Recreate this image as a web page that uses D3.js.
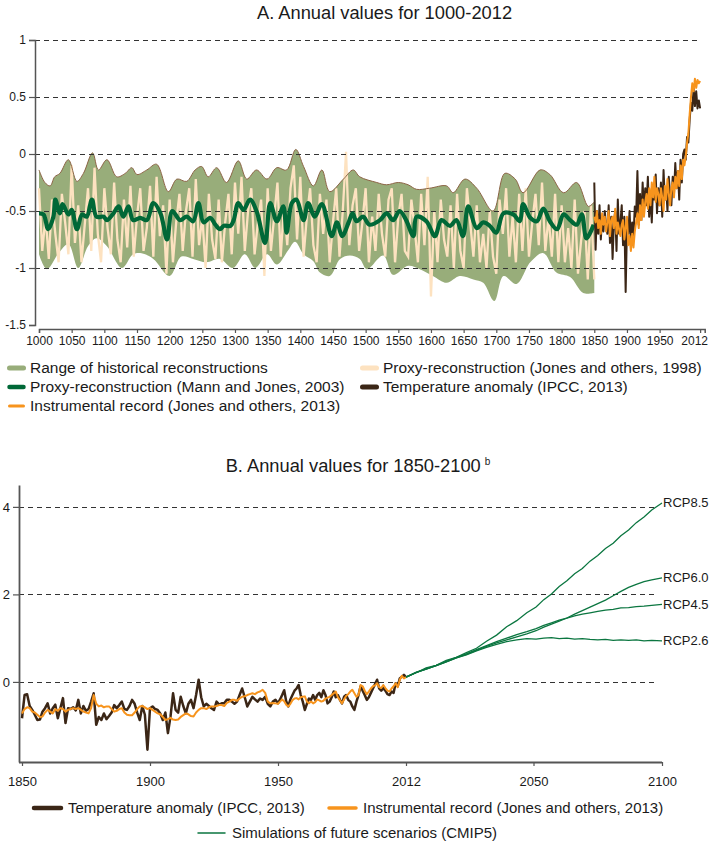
<!DOCTYPE html>
<html><head><meta charset="utf-8">
<script src="https://cdn.jsdelivr.net/npm/d3@7"></script>
<style>
body{margin:0;background:#fff;}
text{font-family:"Liberation Sans",Arial,Helvetica,sans-serif;fill:#1a1a1a;}
</style>
</head><body>
<svg id="chart" width="711" height="847"></svg>
<script>
// ---------------- Panel A data ----------------
const xTicksA = [1000,1050,1100,1150,1200,1250,1300,1350,1400,1450,1500,1550,1600,1650,1700,1750,1800,1850,1900,1950,2012];
const yTicksA = [-1.5,-1,-0.5,0,0.5,1];
const gridA = [-1,-0.5,0,0.5,1];

const rangeUpperYears = [1000,1009,1017,1024,1032,1045,1058,1068,1082,1091,1104,1119,1132,1142,1150,1165,1180,1198,1211,1226,1239,1249,1259,1272,1287,1305,1318,1333,1349,1364,1379,1393,1405,1420,1433,1445,1466,1481,1491,1517,1532,1550,1565,1578,1598,1624,1634,1652,1670,1695,1713,1729,1741,1767,1782,1803,1823,1841,1850];
const rangeUpperValues = [-0.14,-0.25,-0.28,-0.20,-0.17,-0.05,-0.24,-0.17,0.01,-0.14,-0.05,-0.20,-0.17,-0.12,-0.18,-0.14,-0.09,-0.33,-0.22,-0.24,-0.14,-0.11,-0.20,-0.12,-0.25,-0.06,-0.22,-0.14,-0.22,-0.12,-0.14,0.04,-0.11,-0.28,-0.14,-0.33,-0.22,-0.14,-0.20,-0.25,-0.27,-0.25,-0.27,-0.31,-0.30,-0.28,-0.34,-0.22,-0.30,-0.50,-0.17,-0.22,-0.34,-0.14,-0.18,-0.34,-0.25,-0.46,-0.42];
const rangeLowerYears = [1000,1012,1030,1045,1060,1075,1088,1104,1127,1144,1157,1175,1200,1218,1236,1256,1277,1297,1315,1331,1349,1364,1382,1392,1405,1420,1430,1445,1461,1476,1491,1502,1527,1542,1565,1583,1603,1624,1644,1665,1680,1697,1711,1731,1752,1772,1792,1813,1833,1850];
const rangeLowerValues = [-0.88,-1.01,-0.87,-0.79,-1.00,-0.81,-0.74,-0.81,-1.00,-0.88,-0.87,-0.92,-1.07,-0.90,-0.92,-0.95,-0.92,-1.00,-0.88,-1.00,-0.88,-0.97,-0.84,-0.77,-0.88,-0.94,-1.04,-1.07,-0.92,-0.89,-0.92,-1.01,-0.89,-1.06,-0.98,-1.01,-1.07,-1.13,-1.07,-1.10,-1.13,-1.29,-1.07,-1.14,-0.95,-0.87,-1.04,-1.08,-1.22,-1.22];

const jonesYears = d3.range(1000, 1851, 5);
const jonesValues = [
-0.30,-0.85,-0.55,-0.92,-0.40,-0.70,-0.95,-0.35,-0.60,-0.88,
-0.10,-0.78,-0.45,-0.95,-0.62,-0.30,-0.85,-0.12,-0.70,-0.95,
-0.30,-0.65,-0.88,-0.25,-0.75,-0.95,-0.40,-0.82,-0.28,-0.90,
-0.55,-0.30,-0.85,-0.65,-0.28,-0.90,-0.20,-0.72,-0.45,-1.05,
-0.40,-0.95,-0.60,-0.35,-0.85,-0.50,-0.30,-0.90,-0.22,-0.80,
-0.55,-1.00,-0.35,-0.75,-0.92,-0.40,-0.95,-0.60,-0.35,-0.88,
-0.25,-0.70,-0.20,-0.85,-0.50,-0.30,-0.88,-0.60,-0.40,-1.07,
-0.30,-0.85,-0.55,-0.25,-0.90,-0.45,-0.80,-0.30,-0.10,-0.75,
-0.20,-0.90,-0.55,-0.30,-0.80,-0.95,-0.35,-0.70,-0.40,-0.95,
-0.60,-0.30,-0.90,-0.50,0.02,-0.80,-0.45,-0.30,-0.85,-0.60,
-0.30,-0.95,-0.55,-0.85,-0.35,-0.70,-0.90,-0.40,-0.30,-0.95,
-0.55,-0.35,-0.85,-0.90,-0.40,-0.65,-0.95,-0.35,-0.80,-0.20,
-1.25,-0.50,-0.95,-0.40,-0.75,-0.90,-0.45,-1.00,-0.35,-0.85,
-1.00,-0.30,-0.60,-0.90,-0.45,-0.95,-0.70,-1.00,-0.50,-0.90,
-1.05,-0.40,-0.70,-0.30,-0.90,-0.55,-0.95,-0.35,-0.85,-0.30,
-0.90,-0.60,-0.35,-0.80,-0.25,-0.85,-0.55,-0.90,-0.35,-0.95,
-0.45,-0.95,-0.65,-1.00,-0.40,-1.05,-0.75,-0.50,-1.10,-0.45,
-1.10];

const mannYears = [1000,1007,1014,1022,1025,1032,1036,1045,1050,1058,1066,1073,1081,1088,1099,1104,1114,1122,1129,1137,1144,1155,1165,1175,1186,1196,1204,1216,1226,1236,1244,1252,1262,1270,1277,1283,1293,1298,1305,1313,1323,1333,1346,1354,1364,1374,1379,1387,1394,1405,1412,1422,1433,1448,1456,1464,1474,1480,1486,1496,1506,1522,1532,1542,1552,1562,1573,1578,1593,1606,1616,1629,1639,1649,1657,1670,1680,1690,1700,1711,1726,1736,1741,1752,1762,1772,1782,1793,1803,1813,1823,1831,1838,1849];
const mannValues = [-0.52,-0.53,-0.66,-0.55,-0.40,-0.52,-0.44,-0.53,-0.49,-0.66,-0.53,-0.55,-0.40,-0.55,-0.55,-0.58,-0.52,-0.46,-0.55,-0.46,-0.58,-0.56,-0.58,-0.43,-0.52,-0.75,-0.50,-0.58,-0.55,-0.59,-0.43,-0.60,-0.56,-0.62,-0.66,-0.63,-0.63,-0.58,-0.43,-0.49,-0.40,-0.50,-0.78,-0.43,-0.59,-0.46,-0.69,-0.43,-0.40,-0.58,-0.43,-0.55,-0.44,-0.72,-0.60,-0.72,-0.60,-0.52,-0.59,-0.55,-0.62,-0.58,-0.52,-0.58,-0.50,-0.58,-0.72,-0.55,-0.59,-0.72,-0.58,-0.63,-0.58,-0.72,-0.46,-0.65,-0.60,-0.63,-0.69,-0.52,-0.53,-0.59,-0.44,-0.56,-0.59,-0.48,-0.59,-0.66,-0.53,-0.58,-0.62,-0.53,-0.74,-0.62];

const yearsA = d3.range(1850, 2013, 2);
const ipccValuesA = [
-0.25,-0.84,-0.50,-0.70,-0.45,-0.75,-0.55,-0.68,-0.50,-0.62,
-0.70,-0.45,-0.78,-0.55,-0.92,-0.60,-0.50,-0.85,-0.40,-0.70,
-0.60,-0.45,-0.80,-0.55,-1.21,-0.65,-0.70,-0.50,-0.78,-0.60,
-0.72,-0.46,-0.55,-0.15,-0.62,-0.35,-0.58,-0.25,-0.50,-0.30,
-0.45,-0.20,-0.55,-0.35,-0.60,-0.28,-0.40,-0.18,-0.52,-0.30,
-0.45,-0.25,-0.55,-0.14,-0.40,-0.30,-0.50,-0.20,-0.35,-0.45,
-0.20,-0.35,-0.08,-0.30,-0.15,-0.40,-0.05,-0.25,0.00,0.04,
-0.05,0.15,0.10,0.30,0.45,0.38,0.58,0.42,0.55,0.40,
0.47,0.40];
const instrValuesA = [
-0.55,-0.60,-0.50,-0.65,-0.58,-0.70,-0.52,-0.62,-0.55,-0.68,
-0.60,-0.50,-0.72,-0.58,-0.55,-0.65,-0.48,-0.70,-0.60,-0.66,
-0.72,-0.62,-0.58,-0.75,-0.64,-0.55,-0.80,-0.72,-0.85,-0.70,
-0.82,-0.68,-0.60,-0.52,-0.65,-0.45,-0.58,-0.40,-0.55,-0.42,
-0.35,-0.48,-0.30,-0.45,-0.25,-0.38,-0.20,-0.42,-0.30,-0.35,
-0.45,-0.30,-0.38,-0.50,-0.28,-0.40,-0.22,-0.35,-0.45,-0.30,
-0.25,-0.38,-0.20,-0.30,-0.15,-0.28,-0.10,-0.22,-0.05,-0.10,
-0.02,0.10,0.18,0.35,0.50,0.62,0.55,0.66,0.58,0.65,
0.62,0.64];

// ---------------- Panel B data ----------------
const xTicksB = [1850,1900,1950,2012,2050,2100];
const yTicksB = [0,2,4];
const yearsB = d3.range(1850, 2013);
const ipccValuesB = [
-0.83,-0.30,-0.28,-0.55,-0.64,-0.75,-0.87,-0.86,-0.68,-0.60,
-0.49,-0.72,-0.60,-0.52,-0.83,-0.60,-0.37,-0.94,-0.60,-0.62,
-0.58,-0.65,-0.41,-0.72,-0.55,-0.66,-0.62,-0.45,-0.26,-0.98,
-0.80,-0.87,-0.72,-0.85,-0.78,-0.70,-0.53,-0.60,-0.53,-0.45,
-0.62,-0.64,-0.55,-0.41,-0.50,-0.70,-0.87,-0.55,-0.75,-1.55,
-0.60,-0.56,-0.62,-0.64,-0.72,-0.87,-0.70,-1.17,-0.80,-0.26,
-0.64,-0.70,-0.34,-0.55,-0.72,-0.50,-0.41,-0.60,-0.30,0.05,
-0.35,-0.56,-0.50,-0.55,-0.60,-0.64,-0.45,-0.52,-0.49,-0.49,
-0.41,-0.41,-0.45,-0.50,-0.45,-0.30,-0.15,-0.35,-0.56,-0.45,
-0.34,-0.40,-0.45,-0.38,-0.41,-0.34,-0.50,-0.56,-0.45,-0.41,
-0.49,-0.40,-0.30,-0.19,-0.45,-0.56,-0.40,-0.30,-0.20,-0.15,
-0.07,-0.30,-0.45,-0.64,-0.50,-0.38,-0.41,-0.30,-0.41,-0.30,
-0.25,-0.35,-0.19,-0.30,-0.49,-0.45,-0.35,-0.22,-0.35,-0.30,
-0.41,-0.49,-0.34,-0.30,-0.41,-0.45,-0.56,-0.64,-0.45,-0.30,
-0.10,-0.20,-0.30,-0.41,-0.35,-0.25,-0.15,-0.05,0.05,-0.15,
-0.20,-0.14,-0.20,-0.28,-0.30,-0.22,-0.25,-0.03,-0.10,0.08,
0.12,0.16,0.11];
const instrValuesB = [
-0.72,-0.62,-0.58,-0.60,-0.68,-0.70,-0.75,-0.80,-0.79,-0.70,
-0.64,-0.68,-0.72,-0.62,-0.66,-0.60,-0.62,-0.68,-0.64,-0.62,
-0.60,-0.62,-0.60,-0.64,-0.68,-0.70,-0.72,-0.60,-0.30,-0.50,
-0.56,-0.54,-0.58,-0.56,-0.56,-0.62,-0.68,-0.66,-0.62,-0.60,
-0.70,-0.75,-0.76,-0.76,-0.70,-0.62,-0.56,-0.55,-0.58,-0.62,
-0.60,-0.64,-0.68,-0.72,-0.74,-0.80,-0.87,-0.85,-0.82,-0.86,
-0.87,-0.86,-0.80,-0.76,-0.72,-0.74,-0.78,-0.79,-0.70,-0.64,
-0.60,-0.60,-0.62,-0.58,-0.56,-0.56,-0.55,-0.53,-0.53,-0.55,
-0.48,-0.45,-0.41,-0.41,-0.43,-0.38,-0.34,-0.33,-0.30,-0.28,
-0.26,-0.28,-0.24,-0.22,-0.18,-0.25,-0.45,-0.49,-0.48,-0.49,
-0.50,-0.45,-0.40,-0.44,-0.52,-0.56,-0.50,-0.42,-0.38,-0.37,
-0.40,-0.35,-0.34,-0.33,-0.45,-0.49,-0.45,-0.49,-0.46,-0.40,
-0.42,-0.45,-0.43,-0.38,-0.36,-0.34,-0.30,-0.26,-0.22,-0.35,
-0.42,-0.49,-0.40,-0.32,-0.28,-0.22,-0.18,-0.26,-0.34,-0.30,
-0.07,-0.10,-0.20,-0.28,-0.22,-0.15,-0.10,-0.08,-0.03,-0.12,
-0.14,-0.07,-0.14,-0.20,-0.22,-0.15,-0.10,-0.03,-0.12,0.05,
0.14,0.08,0.11];

const projYears = [2012,2015,2018,2021,2024,2027,2030,2033,2036,2039,2042,2045,2048,2051,2054,2057,2060,2063,2066,2069,2072,2075,2078,2081,2084,2087,2090,2093,2096,2100];
const rcp26 = [0.11,0.22,0.29,0.37,0.46,0.55,0.62,0.71,0.79,0.86,0.92,0.96,0.99,0.98,1.00,1.01,0.99,1.00,0.98,0.99,0.97,0.96,0.97,0.95,0.96,0.95,0.96,0.94,0.95,0.94];
const rcp45 = [0.11,0.22,0.30,0.38,0.47,0.56,0.64,0.74,0.83,0.92,1.00,1.08,1.15,1.22,1.29,1.35,1.41,1.46,1.51,1.55,1.58,1.61,1.64,1.66,1.69,1.70,1.72,1.73,1.75,1.77];
const rcp60 = [0.11,0.21,0.29,0.37,0.46,0.55,0.63,0.72,0.81,0.89,0.96,1.03,1.10,1.17,1.25,1.32,1.39,1.46,1.55,1.63,1.71,1.79,1.87,1.97,2.07,2.16,2.23,2.29,2.33,2.38];
const rcp85 = [0.11,0.21,0.32,0.38,0.49,0.56,0.67,0.77,0.93,1.07,1.26,1.40,1.58,1.71,1.88,2.01,2.18,2.31,2.47,2.59,2.76,2.89,3.05,3.17,3.34,3.47,3.64,3.77,3.93,4.09];
const scenarioNames = ["RCP2.6","RCP4.5","RCP6.0","RCP8.5"];
const scenarioValues = [rcp26, rcp45, rcp60, rcp85];

// ---------------- colours ----------------
const C = {
  range:"#98ad7a", rangeEdge:"#8c6446", beige:"#fde2c0", mann:"#006837",
  ipcc:"#3b2616", instr:"#f7941d", rcp:"#0b7640", grid:"#333", axis:"#555"
};

const svg = d3.select("#chart");
svg.append("rect").attr("width",711).attr("height",847).attr("fill","#fff");

// ================= Panel A =================
const xA = d3.scaleLinear().domain([1000, 2019]).range([39, 704.7]);
const yA = d3.scaleLinear().domain([-1.5, 1]).range([325, 40]);
const gA = svg.append("g");

gA.append("text").attr("x",384.5).attr("y",18.5).attr("text-anchor","middle")
  .attr("font-size",18.3).text("A. Annual values for 1000-2012");

const lineA = d3.line().x(d=>xA(d[0])).y(d=>yA(d[1]));
const smoothA = d3.line().x(d=>xA(d[0])).y(d=>yA(d[1])).curve(d3.curveCatmullRom.alpha(0.5));

const upperPts = rangeUpperYears.map((y,i)=>[y, rangeUpperValues[i]]);
const lowerPts = rangeLowerYears.map((y,i)=>[y, rangeLowerValues[i]]).reverse();
gA.append("path")
  .attr("d", smoothA(upperPts) + smoothA(lowerPts).replace(/^M/,"L") + "Z")
  .attr("fill", C.range);

gA.append("path").attr("d", lineA(jonesYears.map((y,i)=>[y, jonesValues[i]])))
  .attr("fill","none").attr("stroke",C.beige).attr("stroke-width",2.3).attr("stroke-linejoin","miter");

gA.append("path").attr("d", smoothA(upperPts))
  .attr("fill","none").attr("stroke",C.rangeEdge).attr("stroke-width",1);

// grid
gA.selectAll(".gridA").data(gridA).join("line")
  .attr("x1",35).attr("x2",xA(2012)).attr("y1",d=>Math.round(yA(d))+0.5).attr("y2",d=>Math.round(yA(d))+0.5)
  .attr("stroke",C.grid).attr("stroke-width",1).attr("stroke-dasharray","5,4");

gA.append("path").attr("d", smoothA(mannYears.map((y,i)=>[y, mannValues[i]])))
  .attr("fill","none").attr("stroke",C.mann).attr("stroke-width",4.2).attr("stroke-linejoin","round");

gA.append("path").attr("d", lineA(yearsA.map((y,i)=>[y, ipccValuesA[i]])))
  .attr("fill","none").attr("stroke",C.ipcc).attr("stroke-width",2).attr("stroke-linejoin","round");
gA.append("path").attr("d", lineA(yearsA.map((y,i)=>[y, instrValuesA[i]])))
  .attr("fill","none").attr("stroke",C.instr).attr("stroke-width",2).attr("stroke-linejoin","round");

// axes A
const yAxisA = gA.append("g").attr("transform","translate(35,0)")
  .call(d3.axisLeft(yA).tickValues(yTicksA).tickSize(6).tickPadding(3).tickFormat(d=>String(d)));
const xAxisA = gA.append("g").attr("transform","translate(0,329)")
  .call(d3.axisBottom(xA).tickValues(xTicksA).tickSize(4).tickPadding(3).tickFormat(d=>String(d)));
[yAxisA, xAxisA].forEach(a=>{
  a.select(".domain").attr("stroke",C.axis).attr("stroke-width",1.5);
  a.selectAll(".tick line").attr("stroke",C.axis).attr("stroke-width",1.2);
  a.selectAll(".tick text").attr("font-size",12).attr("fill","#1a1a1a")
    .attr("font-family",'"Liberation Sans",Arial,sans-serif');
});
xAxisA.selectAll(".tick text").filter(d=>d===2012).attr("dx",-6);

// legend A
const legendA = [
  {label:"Range of historical reconstructions", color:C.range, w:5, x:8, y:368},
  {label:"Proxy-reconstruction (Mann and Jones, 2003)", color:C.mann, w:4.5, x:8, y:387},
  {label:"Instrumental record (Jones and others, 2013)", color:C.instr, w:3, x:8, y:406},
  {label:"Proxy-reconstruction (Jones and others, 1998)", color:C.beige, w:5, x:361, y:368},
  {label:"Temperature anomaly (IPCC, 2013)", color:C.ipcc, w:5, x:361, y:387}
];
const lgA = gA.selectAll(".lgA").data(legendA).join("g");
lgA.append("line").attr("x1",d=>d.x+1.5).attr("x2",d=>d.x+15.5).attr("y1",d=>d.y).attr("y2",d=>d.y)
  .attr("stroke",d=>d.color).attr("stroke-width",d=>d.w).attr("stroke-linecap","round");
lgA.append("text").attr("x",d=>d.x+22).attr("y",d=>d.y).attr("dy","0.35em")
  .attr("font-size",15.5).text(d=>d.label);

// ================= Panel B =================
const xB = d3.scaleLinear().domain(xTicksB).range([22,150,278,406,533.5,662]);
const yB = d3.scaleLinear().domain([-1.83, 4.5]).range([762, 485]);
const gB = svg.append("g");

const tB = gB.append("text").attr("x",358).attr("y",472).attr("text-anchor","middle").attr("font-size",18.3);
tB.append("tspan").text("B. Annual values for 1850-2100");
tB.append("tspan").attr("dx",4).attr("dy",-7).attr("font-size",10).text("b");

gB.selectAll(".gridB").data(yTicksB).join("line")
  .attr("x1",19).attr("x2",657).attr("y1",d=>Math.round(yB(d))+0.5).attr("y2",d=>Math.round(yB(d))+0.5)
  .attr("stroke",C.grid).attr("stroke-width",1).attr("stroke-dasharray","5,4");

const lineB = d3.line().x(d=>xB(d[0])).y(d=>yB(d[1]));
gB.append("path").attr("d", lineB(yearsB.map((y,i)=>[y, ipccValuesB[i]])))
  .attr("fill","none").attr("stroke",C.ipcc).attr("stroke-width",2.5).attr("stroke-linejoin","round");
gB.append("path").attr("d", lineB(yearsB.map((y,i)=>[y, instrValuesB[i]])))
  .attr("fill","none").attr("stroke",C.instr).attr("stroke-width",2).attr("stroke-linejoin","round");

scenarioValues.forEach((vals,k)=>{
  gB.append("path").attr("d", lineB(projYears.map((y,i)=>[y, vals[i]])))
    .attr("fill","none").attr("stroke",C.rcp).attr("stroke-width",1.3);
  gB.append("text").attr("x", xB(2100)+1).attr("y", yB(vals[vals.length-1])).attr("dy","0.35em")
    .attr("font-size",13).text(scenarioNames[k]);
});

const yAxisB = gB.append("g").attr("transform","translate(19,0)")
  .call(d3.axisLeft(yB).tickValues(yTicksB).tickSize(6).tickSizeOuter(0).tickPadding(3).tickFormat(d=>String(d)));
const xAxisB = gB.append("g").attr("transform","translate(0,762)")
  .call(d3.axisBottom(xB).tickValues(xTicksB).tickSize(4).tickSizeOuter(0).tickPadding(11).tickFormat(d=>String(d)));
xAxisB.select(".domain").attr("d","M19,0.5H662");
[yAxisB, xAxisB].forEach(a=>{
  a.select(".domain").attr("stroke",C.axis).attr("stroke-width",1.8);
  a.selectAll(".tick line").attr("stroke",C.axis).attr("stroke-width",1.2);
  a.selectAll(".tick text").attr("font-size",13).attr("fill","#1a1a1a")
    .attr("font-family",'"Liberation Sans",Arial,sans-serif');
});

const legendB = [
  {label:"Temperature anomaly (IPCC, 2013)", color:C.ipcc, w:4.5, x:33, y:808},
  {label:"Instrumental record (Jones and others, 2013)", color:C.instr, w:3.5, x:328, y:808},
  {label:"Simulations of future scenarios (CMIP5)", color:C.rcp, w:1.5, x:197, y:833}
];
const lgB = gB.selectAll(".lgB").data(legendB).join("g");
lgB.append("line").attr("x1",d=>d.x+1).attr("x2",d=>d.x+28).attr("y1",d=>d.y).attr("y2",d=>d.y)
  .attr("stroke",d=>d.color).attr("stroke-width",d=>d.w).attr("stroke-linecap","round");
lgB.append("text").attr("x",d=>d.x+35).attr("y",d=>d.y).attr("dy","0.35em")
  .attr("font-size",15).text(d=>d.label);
</script>
</body></html>
